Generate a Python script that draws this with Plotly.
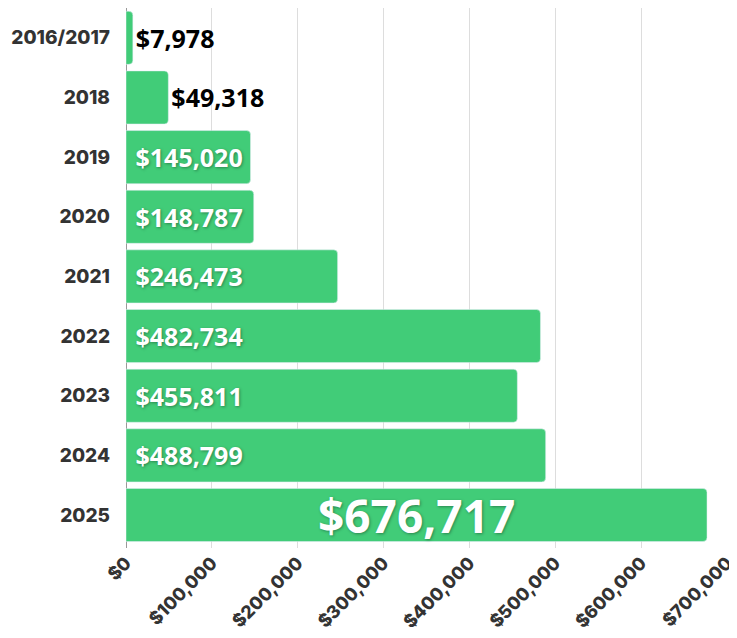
import plotly.graph_objects as go

years = ["2016/2017", "2018", "2019", "2020", "2021", "2022", "2023", "2024", "2025"]
values = [7978, 49318, 145020, 148787, 246473, 482734, 455811, 488799, 676717]
tick_vals = [0, 100000, 200000, 300000, 400000, 500000, 600000, 700000]
tick_text = ["$0", "$100,000", "$200,000", "$300,000", "$400,000", "$500,000", "$600,000", "$700,000"]

GREEN = "#41CC78"
FONT = "Inter"
LFONT = "Open Sans"
SHADOW = "1px 1px 3px rgba(0,0,0,0.35)"

labels = ["$" + f"{v:,}" for v in values]

small_y = years[:-1]
small_v = values[:-1]
small_t = [("\u00a0" + t) if v > 100000 else t for t, v in zip(labels[:-1], small_v)]
positions = ["inside" if v > 100000 else "outside" for v in small_v]

fig = go.Figure()
fig.add_trace(go.Bar(
    y=small_y, x=small_v, orientation="h",
    marker=dict(color=GREEN),
    text=small_t, textposition=positions,
    insidetextanchor="start",
    constraintext="none", cliponaxis=False,
    insidetextfont=dict(family=LFONT, size=25, color="white", weight=700, shadow=SHADOW),
    outsidetextfont=dict(family=LFONT, size=25, color="black", weight=700),
    hoverinfo="skip",
))
fig.add_trace(go.Bar(
    y=years[-1:], x=values[-1:], orientation="h",
    marker=dict(color=GREEN),
    hoverinfo="skip",
))
# category index of the last bar (numeric position on a category axis)
fig.add_annotation(
    x=values[-1] / 2, y=len(years) - 1, xref="x", yref="y",
    text=labels[-1], showarrow=False, yshift=0,
    font=dict(family=LFONT, size=46, color="white", weight=700, shadow=SHADOW),
)

fig.update_layout(
    width=729, height=630,
    margin=dict(l=118, r=10, t=0, b=90),
    barmode="overlay", bargap=0.11, barcornerradius=4,
    showlegend=False,
    plot_bgcolor="white", paper_bgcolor="white",
    xaxis=dict(
        range=[0, 700000], tickvals=tick_vals, ticktext=tick_text,
        tickangle=-45, showgrid=True, gridcolor="#dddddd", gridwidth=1,
        zeroline=True, zerolinecolor="#999999", zerolinewidth=1,
        tickfont=dict(family=FONT, size=18, color="#333333", weight=800),
        automargin=False, fixedrange=True,
    ),
    yaxis=dict(
        type="category",
        categoryorder="array", categoryarray=years, autorange="reversed",
        tickfont=dict(family=FONT, size=19, color="#333333", weight=800),
        ticks="", ticklen=0, ticklabelstandoff=15, showgrid=False,
        automargin=False, fixedrange=True,
    ),
)

fig.write_html("out.html", config={"displayModeBar": False})
